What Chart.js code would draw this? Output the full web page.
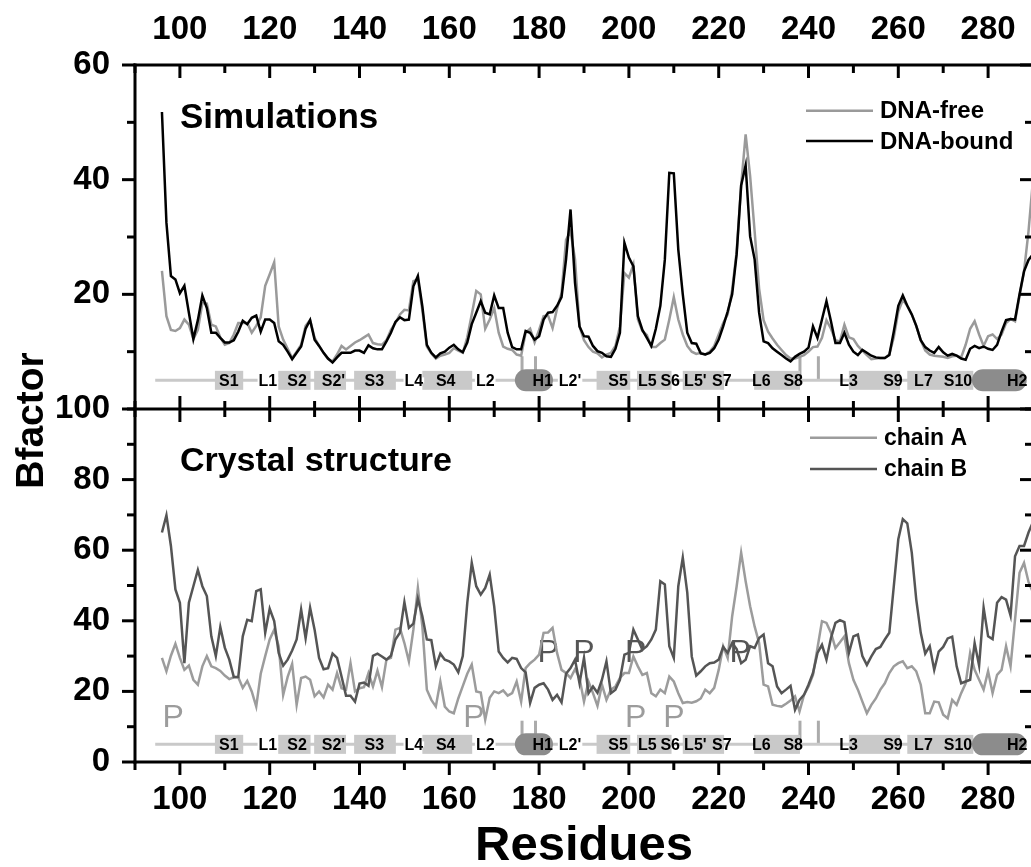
<!DOCTYPE html>
<html><head><meta charset="utf-8">
<script src="https://cdn.jsdelivr.net/npm/chart.js@4/dist/chart.umd.min.js"></script>
<style>
html,body{margin:0;padding:0;overflow:hidden;background:#fff;width:1031px;height:867px}
#wrap{position:absolute;left:0;top:0;width:1040px;height:867px}
</style>
</head><body><div id="wrap"><canvas id="c" width="1040" height="867"></canvas></div>
<script>
// ---------- data ----------
const residueStart = 96, residueEnd = 290;
const residues = Array.from({length: residueEnd - residueStart + 1}, (_, i) => residueStart + i);

const dnaFree = [
24.1,16.2,13.8,13.6,14.1,15.6,14.7,12.2,13.8,18.5,
18.4,14.7,14.4,12.5,11.2,11.5,13,15,15,15,
13.3,14.5,16,21.5,23.5,25.6,14.4,12.1,10.5,8.9,
10,11.2,14.5,15.5,12.4,11,9.8,8.7,8.3,9.5,
11,10.4,11,11.6,12,12.5,13,11.5,11.3,11.2,
12,13.8,15,16.5,17.3,17.2,22.3,22.6,17.2,10.9,
9.7,8.8,9.3,9.5,9.8,10.6,10.2,9.8,12.5,16.5,
20.6,20,14,15.6,17.6,13.3,10.9,10.5,10.3,9.5,
9.3,13.3,14,11.6,13.8,16.2,16.3,14.1,17.5,20.2,
29.5,31,26.1,14.4,12,10.8,10,9.7,9,9.5,
9.8,11,14.4,23.7,22.9,25.2,15.6,13.6,12.9,10.8,
10.8,11.5,12.1,15.6,19.5,15.6,13,11,10,9.6,
9.8,9.5,10,11,13,15,16.5,20.8,27.5,39,
47.9,40.6,31,21,15.5,13.5,12.3,11.2,10.3,9.4,
8.8,8.8,9.1,9.4,10,10.8,10.9,12.4,15.5,14,
12,11.8,14.7,12.5,12.2,11,10.2,9.4,8.7,8.8,
8.9,8.9,9.5,12.5,17,19,18,16.5,14.5,12,
10.2,9.5,9.3,9.2,9.1,8.9,9.2,9.3,9,11.2,
14,15.3,13,11,12.7,13,12.2,13,15,15.7,
15.3,19.7,24,31,40];

const dnaBound = [
51.8,32.5,23.2,22.6,20.2,21.5,16.8,12.2,15.5,19.8,
17.6,13.3,13.3,12.4,11.6,11.6,12,13.5,15.4,14.8,
15.9,16.3,13.5,15.6,15.6,15,11.8,11.2,10,8.7,
9.8,10.9,14,15.5,12.1,11,9.8,8.8,8.1,9,
9.8,9.8,9.8,10.2,10.2,9.8,11.1,10.6,10.4,10.4,
11.8,13.3,15.2,16,15.5,15.6,21.4,23.2,17.9,11.2,
9.8,9,9.7,10,10.7,11.2,10.4,9.9,11.6,14.8,
16.8,18.8,16.8,16.5,19.8,17.6,17.6,13.3,10.8,10.4,
10.4,13.6,13.3,12.1,12.7,15.6,16.8,16.9,18,19.5,
26.1,34.8,22,14.4,12.7,12.6,11,10.1,9.8,9.2,
9.1,10.5,13.3,29,26.4,24.9,16.2,13.8,12.4,11,
14,18,26,41.2,41.1,27.8,20,13.3,11.5,11.4,
9.7,9.5,9.8,10.6,12.1,14.4,17,20,27,39,
42.5,30.1,26.1,16.8,11.8,11.5,10.6,10,9.4,8.8,
8.3,9.1,9.6,10,10.7,14.4,12.4,15.6,18.8,15.3,
11.5,11.5,13.3,11.2,10,9.4,10.3,9.8,9.3,9,
8.9,8.9,9.4,13.5,18,19.8,18,16.5,14.5,12,
10.8,10.2,9.8,10.8,9.9,9.3,9.6,9.3,8.8,8.6,
10.5,11,10.6,10.9,10.5,10.3,11.2,13.5,15.5,15.7,
15.6,20,24,26,27];

const chainA = [
29.5,25.7,30.1,33.5,29.5,26.1,27.3,23.3,21.9,27.1,
30,27.1,26.6,25.8,24.5,23.5,24,24,21,23,
20,15.7,25,30,34.7,37.5,32.8,19,24.1,27.8,
16.2,23.8,24.2,23.3,18.6,20,18.3,21.9,20.5,25.2,
20.9,20.5,28,20,20.9,21.2,25.2,21.4,25.9,21.2,
29,29.5,37.5,38,33.7,28.5,37.5,49.3,38.4,20.5,
17.6,15.7,22.8,15.7,14.3,13.8,18,21.5,25,27.6,
20,19.7,12,18.2,20,19.5,20.3,18.8,19.5,22.8,
17.1,26.6,28,29,30.4,36.6,36.7,38,30.9,26.1,
25.2,23.8,26.3,23.8,17.1,22.8,19.5,15.9,21.9,17.6,
20.5,21.4,23.8,25.2,25.2,29.9,27.1,24.7,25.2,19.5,
18.6,20.5,19.5,24.2,22.8,19.5,16.7,17,16.8,17.2,
18,20.5,19.5,21,26.1,32.8,29.5,41.3,49.8,59.3,
51.2,44.1,38.4,33.7,21.9,21.4,16.2,15.9,15.7,16.5,
17.4,18.6,14.3,19,21.4,24.7,32.3,39.9,39.4,36.6,
32.3,33.9,35.6,28,23.3,20.5,17.1,13.8,16.2,18,
20.5,22.3,25.2,27.1,28,28.5,26.6,27.1,25.7,21.9,
13.8,13.8,17.1,16.9,13.4,12.4,17.6,16.2,19.5,22.3,
30.9,26.1,23.3,20.5,25.7,19.5,24.7,26.1,32.8,27.1,
40.3,53.6,56.4,51,48];

const chainB = [
65,69.9,61.2,48.9,45.1,28,45.1,49.8,54.4,49.8,
47,35.6,30,38.2,32.4,29,24.1,24.1,35.6,40.3,
39.9,48.4,48.9,36.6,43.4,39.9,30.9,27.3,29,31.6,
34.7,43.2,35.1,43.7,37.5,29.5,26.3,26.6,30.7,29.5,
24.2,18.8,18.8,17.1,22.2,22.5,21.6,30.1,30.7,29.9,
29,30.1,34.7,36.6,45.3,38,39.2,46.2,41.3,34.7,
34.5,27.1,30.7,29,28.5,27.6,25.4,30,45,56.4,
49.8,47.4,49.3,53.1,44.1,31.3,29.5,28.2,29.5,29.2,
26.6,25.4,16.7,21,21.9,22.3,20.5,17.6,19,16.9,
25,26.6,29,22.3,29.5,19.5,21.4,19.6,23.3,28.5,
19.5,20.5,23.3,30.4,30.9,37.5,34.7,31.8,32.8,34.7,
37.5,51.2,50.3,32.8,29.5,49.8,57.9,48,29.9,24.5,
25.7,27.1,28,28.2,29,32.6,30.9,33.7,32,28,
29,32.8,32.3,35.1,36.1,28,27.1,21.4,19.5,20.5,
21.6,14.8,17.6,19,21.9,25.2,30.9,33.2,29,35.1,
39.4,40.2,39.6,30.9,35.6,36.1,30,27.5,29.9,32,
32.6,34.7,36.6,49.8,63.1,68.8,67.6,59.3,46,36.6,
30.7,32.8,26.1,31.3,32.6,35,35.5,27.1,22.3,22.8,
23.3,33.7,27.3,43.7,35.6,34.8,45.1,46.7,46,41.5,
58.3,61.2,61.2,65,68];

const seriesLabels = ['DNA-free', 'DNA-bound', 'chain A', 'chain B'];
const panelTitles = ['Simulations', 'Crystal structure'];
const xTitle = 'Residues';
const yTitle = 'Bfactor';

const xRange = [90, 290];
const xMajorTicks = [100,120,140,160,180,200,220,240,260,280];
const xMinorTicks = [90,110,130,150,170,190,210,230,250,270,290];
const yTopRange = [0, 60];
const yTopMajor = [20, 40, 60];
const yTopMinor = [0, 10, 30, 50];
const yBotRange = [0, 100];
const yBotMajor = [0, 20, 40, 60, 80, 100];
const yBotMinor = [10, 30, 50, 70, 90];

// secondary structure strip
const stripLevel = 5;
const stripSpan = [94.5, 288];
const sheetBoxes = [[107.8,114.1],[121.9,129.1],[129.9,137],[138.8,148.1],[154,165.1],[192.8,200.3],[201.8,209.5],[212,221.2],[227.9,238.1],[249,260.4],[262,276.7]];
const helixPills = [[174.6,183.1],[276.4,288.6]];
const ssNames = ['S1','L1','S2',"S2'",'S3','L4','S4','L2','H1',"L2'",'S5','L5','S6',"L5'",'S7','L6','S8','L3','S9','L7','S10','H2'];
const ssCenters = [110.9,119.6,126.1,134.2,143.3,152.1,159.2,168,180.8,186.9,197.6,204.1,209.2,214.8,220.7,229.5,236.6,248.9,258.8,265.6,273.3,286.5];
const ssOnLine = ['L1','L4','L2',"L2'"];
const markResidues = [176.2, 179.2, 238.1, 242.2];
const markTopLevel = [9.2, 11.7];

// "P" annotations in crystal panel
const pResiduesA = [98.5, 165.5, 201.5, 210];
const pLevelA = 12.4;
const pResiduesB = [182, 190, 201.5, 224.8];
const pLevelB = 30.7;

// ---------- drawing ----------
const FAM = "'Liberation Sans', Arial, Helvetica, sans-serif";
const C_FREE = '#9a9a9a', C_BOUND = '#000000', C_A = '#9c9c9c', C_B = '#555555';
const C_STRIP = '#c9c9c9', C_PILL = '#8c8c8c', C_MARK = '#ababab';

const pts = arr => residues.map((r, i) => ({x: r, y: arr[i]}));

function line(ctx, x1, y1, x2, y2) { ctx.beginPath(); ctx.moveTo(x1, y1); ctx.lineTo(x2, y2); ctx.stroke(); }

function drawStrip(ctx, xs, ys, k) {
  const y = ys.getPixelForValue(stripLevel);
  const px = v => xs.getPixelForValue(v);
  ctx.save();
  ctx.strokeStyle = C_MARK; ctx.lineWidth = 3;
  const yTopMark = ys.getPixelForValue(markTopLevel[k]);
  markResidues.forEach(r => line(ctx, px(r), y, px(r), yTopMark));
  ctx.strokeStyle = C_STRIP; ctx.lineWidth = 3;
  line(ctx, px(stripSpan[0]), y, px(stripSpan[1]), y);
  ctx.fillStyle = C_STRIP;
  sheetBoxes.forEach(([a, b]) => ctx.fillRect(px(a), y - 9.5, px(b) - px(a), 19));
  ctx.fillStyle = C_PILL;
  helixPills.forEach(([a, b]) => { ctx.beginPath(); ctx.roundRect(px(a), y - 11, px(b) - px(a), 22, 11); ctx.fill(); });
  ctx.font = `bold 16px ${FAM}`;
  ctx.textAlign = 'center'; ctx.textBaseline = 'middle';
  ssNames.forEach((n, i) => {
    const cx = px(ssCenters[i]);
    if (ssOnLine.includes(n)) {
      const w = ctx.measureText(n).width;
      ctx.fillStyle = '#fff'; ctx.fillRect(cx - w / 2 - 1, y - 3, w + 2, 6);
    }
    ctx.fillStyle = '#000';
    ctx.fillText(n, cx, y + 1);
  });
  ctx.restore();
}

function drawP(ctx, xs, ys) {
  ctx.save();
  ctx.font = `32px ${FAM}`;
  ctx.textAlign = 'center'; ctx.textBaseline = 'middle';
  ctx.fillStyle = C_A;
  pResiduesA.forEach(r => ctx.fillText('P', xs.getPixelForValue(r), ys.getPixelForValue(pLevelA)));
  ctx.fillStyle = C_B;
  pResiduesB.forEach(r => ctx.fillText('P', xs.getPixelForValue(r), ys.getPixelForValue(pLevelB)));
  ctx.restore();
}

function drawFrame(chart) {
  const ctx = chart.ctx, xs = chart.scales.x, yT = chart.scales.yTop, yB = chart.scales.yBot;
  const {left, right} = chart.chartArea;
  const top = yT.top, mid = yB.top, bot = yB.bottom;
  ctx.save();
  ctx.strokeStyle = '#000'; ctx.lineWidth = 3; ctx.lineCap = 'square';
  line(ctx, left, top, right, top);
  line(ctx, left, mid, right, mid);
  line(ctx, left, bot, right, bot);
  line(ctx, left, top, left, bot);
  line(ctx, right, top, right, bot);
  ctx.lineCap = 'butt';
  const xt = (vals, L) => vals.forEach(v => {
    const p = xs.getPixelForValue(v);
    line(ctx, p, bot, p, bot + L);
    line(ctx, p, top, p, top + L);
    line(ctx, p, mid - L, p, mid + L);
  });
  xt(xMajorTicks, 13); xt(xMinorTicks, 8);
  const yt = (sc, vals, L) => vals.forEach(v => {
    const p = sc.getPixelForValue(v);
    line(ctx, left - L, p, left, p);
    line(ctx, right - L, p, right, p);
  });
  yt(yT, yTopMajor, 13); yt(yT, yTopMinor, 8);
  yt(yB, yBotMajor, 13); yt(yB, yBotMinor, 8);
  ctx.restore();
}

function drawLegend(ctx, items, x0, y0, dy, size) {
  ctx.save();
  ctx.font = `bold ${size}px ${FAM}`;
  ctx.textAlign = 'left'; ctx.textBaseline = 'middle';
  items.forEach((it, i) => {
    const y = y0 + i * dy;
    ctx.strokeStyle = it.color; ctx.lineWidth = 2.5;
    line(ctx, x0, y, x0 + 67, y);
    ctx.fillStyle = '#000';
    ctx.fillText(it.label, x0 + 74, y + 1);
  });
  ctx.restore();
}

const decor = {
  id: 'decor',
  beforeDatasetsDraw(chart) {
    const ctx = chart.ctx, xs = chart.scales.x;
    drawStrip(ctx, xs, chart.scales.yTop, 0);
    drawStrip(ctx, xs, chart.scales.yBot, 1);
    drawP(ctx, xs, chart.scales.yBot);
  },
  afterDraw(chart) {
    const ctx = chart.ctx, xs = chart.scales.x, yT = chart.scales.yTop, yB = chart.scales.yBot;
    drawFrame(chart);
    const ds = chart.data.datasets;
    drawLegend(ctx, [{label: ds[0].label, color: ds[0].borderColor}, {label: ds[1].label, color: ds[1].borderColor}], 806, yT.top + 45.7, 30.3, 24);
    drawLegend(ctx, [{label: ds[2].label, color: ds[2].borderColor}, {label: ds[3].label, color: ds[3].borderColor}], 810, yB.top + 28.7, 31.3, 23);
    ctx.save();
    ctx.fillStyle = '#000'; ctx.font = `bold 35px ${FAM}`;
    ctx.textAlign = 'left'; ctx.textBaseline = 'alphabetic';
    ctx.fillText(panelTitles[0], xs.getPixelForValue(100), yT.top + 63);
    ctx.font = `bold 34px ${FAM}`;
    ctx.fillText(panelTitles[1], xs.getPixelForValue(100), yB.top + 62);
    ctx.translate(32, (yT.top + yB.bottom) / 2 + 7);
    ctx.rotate(-Math.PI / 2);
    ctx.font = `bold 39px ${FAM}`;
    ctx.textAlign = 'center'; ctx.textBaseline = 'middle';
    ctx.fillText(yTitle, 0, 0);
    ctx.restore();
  }
};

const tickFont = {family: FAM, size: 33, weight: 'bold'};
const xTicks = pad => ({font: tickFont, color: '#000', padding: pad, autoSkip: false, maxRotation: 0, minRotation: 0});

new Chart(document.getElementById('c'), {
  type: 'line',
  data: {
    datasets: [
      {label: seriesLabels[0], data: pts(dnaFree), borderColor: C_FREE, yAxisID: 'yTop', order: 2},
      {label: seriesLabels[1], data: pts(dnaBound), borderColor: C_BOUND, yAxisID: 'yTop', order: 1},
      {label: seriesLabels[2], data: pts(chainA), borderColor: C_A, yAxisID: 'yBot', order: 4},
      {label: seriesLabels[3], data: pts(chainB), borderColor: C_B, yAxisID: 'yBot', order: 3}
    ]
  },
  options: {
    responsive: false, animation: false, devicePixelRatio: 1,
    layout: {padding: {left: 0, right: 7, top: 0, bottom: 0}},
    elements: {line: {borderWidth: 2.5, tension: 0}, point: {radius: 0}},
    plugins: {legend: {display: false}, tooltip: {enabled: false}},
    scales: {
      x: {type: 'linear', position: 'bottom', min: xRange[0], max: xRange[1],
          afterBuildTicks: s => { s.ticks = xMajorTicks.map(v => ({value: v})); },
          afterFit: s => { s.height = 105; },
          grid: {display: false, drawTicks: false}, border: {display: false},
          ticks: xTicks(18),
          title: {display: true, text: xTitle, color: '#000', font: {family: FAM, size: 49, weight: 'bold', lineHeight: 0.76}, padding: {top: 0, bottom: 2}}},
      x2: {type: 'linear', position: 'top', min: xRange[0], max: xRange[1],
          afterBuildTicks: s => { s.ticks = xMajorTicks.map(v => ({value: v})); },
          afterFit: s => { s.height = 65; },
          grid: {display: false, drawTicks: false}, border: {display: false},
          ticks: xTicks(15)},
      yTop: {type: 'linear', position: 'left', stack: 'v', stackWeight: 344, weight: 1,
          min: yTopRange[0], max: yTopRange[1],
          afterBuildTicks: s => { s.ticks = yTopMajor.map(v => ({value: v})); },
          afterFit: s => { s.width = 135; },
          grid: {display: false, drawTicks: false}, border: {display: false},
          ticks: {font: tickFont, color: '#000', padding: 25}},
      yBot: {type: 'linear', position: 'left', stack: 'v', stackWeight: 353, weight: 0,
          min: yBotRange[0], max: yBotRange[1],
          afterBuildTicks: s => { s.ticks = yBotMajor.map(v => ({value: v})); },
          afterFit: s => { s.width = 135; },
          grid: {display: false, drawTicks: false}, border: {display: false},
          ticks: {font: tickFont, color: '#000', padding: 25}}
    }
  },
  plugins: [decor]
});
</script>
</body></html>
